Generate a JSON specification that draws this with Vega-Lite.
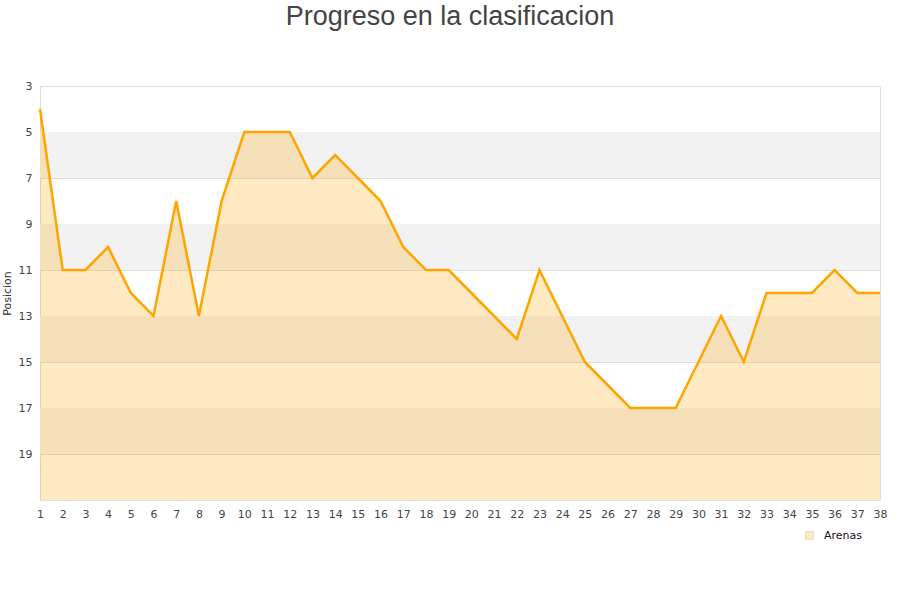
{
  "$schema": "https://vega.github.io/schema/vega-lite/v6.json",
  "width": 840,
  "height": 414,
  "autosize": {"type": "none"},
  "padding": {"left": 40, "top": 86, "right": 20, "bottom": 100},
  "background": "white",
  "config": {
    "view": {"stroke": "#dddddd", "strokeWidth": 1},
    "axis": {"labelFont": "DejaVu Sans", "labelFontSize": 11, "labelColor": "#444444", "titleFont": "DejaVu Sans", "titleFontSize": 11, "titleFontWeight": "normal", "titleColor": "#333333"},
    "axisX": {"labelOverlap": false, "labelFlush": false, "labelBound": false},
    "legend": {"labelFont": "DejaVu Sans", "labelFontSize": 11, "labelColor": "#111111"}
  },
  "title": {"text": "Progreso en la clasificacion", "font": "Liberation Sans", "fontSize": 27, "fontWeight": "normal", "color": "#444444", "anchor": "middle", "dx": -10, "offset": 49},
  "datasets": {
    "pos": [
      {"jornada": 1, "posicion": 4}, {"jornada": 2, "posicion": 11}, {"jornada": 3, "posicion": 11},
      {"jornada": 4, "posicion": 10}, {"jornada": 5, "posicion": 12}, {"jornada": 6, "posicion": 13},
      {"jornada": 7, "posicion": 8}, {"jornada": 8, "posicion": 13}, {"jornada": 9, "posicion": 8},
      {"jornada": 10, "posicion": 5}, {"jornada": 11, "posicion": 5}, {"jornada": 12, "posicion": 5},
      {"jornada": 13, "posicion": 7}, {"jornada": 14, "posicion": 6}, {"jornada": 15, "posicion": 7},
      {"jornada": 16, "posicion": 8}, {"jornada": 17, "posicion": 10}, {"jornada": 18, "posicion": 11},
      {"jornada": 19, "posicion": 11}, {"jornada": 20, "posicion": 12}, {"jornada": 21, "posicion": 13},
      {"jornada": 22, "posicion": 14}, {"jornada": 23, "posicion": 11}, {"jornada": 24, "posicion": 13},
      {"jornada": 25, "posicion": 15}, {"jornada": 26, "posicion": 16}, {"jornada": 27, "posicion": 17},
      {"jornada": 28, "posicion": 17}, {"jornada": 29, "posicion": 17}, {"jornada": 30, "posicion": 15},
      {"jornada": 31, "posicion": 13}, {"jornada": 32, "posicion": 15}, {"jornada": 33, "posicion": 12},
      {"jornada": 34, "posicion": 12}, {"jornada": 35, "posicion": 12}, {"jornada": 36, "posicion": 11},
      {"jornada": 37, "posicion": 12}, {"jornada": 38, "posicion": 12}
    ],
    "bands": [
      {"desde": 5, "hasta": 7}, {"desde": 9, "hasta": 11}, {"desde": 13, "hasta": 15}, {"desde": 17, "hasta": 19}
    ]
  },
  "layer": [
    {
      "data": {"name": "bands"},
      "mark": {"type": "rect", "color": "#f2f2f2"},
      "encoding": {
        "y": {"field": "desde", "type": "quantitative", "scale": {"domain": [3, 21], "reverse": true, "nice": false, "zero": false},
          "axis": {"values": [3, 5, 7, 9, 11, 13, 15, 17, 19], "grid": true, "gridColor": "#dddddd", "domain": false, "ticks": false, "labelPadding": 8, "title": "Posicion", "titlePadding": 6}},
        "y2": {"field": "hasta"}
      }
    },
    {
      "data": {"name": "pos"},
      "mark": {"type": "area", "opacity": 0.23},
      "encoding": {
        "x": {"field": "jornada", "type": "quantitative", "scale": {"domain": [1, 38], "nice": false, "zero": false},
          "axis": {"values": [1,2,3,4,5,6,7,8,9,10,11,12,13,14,15,16,17,18,19,20,21,22,23,24,25,26,27,28,29,30,31,32,33,34,35,36,37,38], "grid": false, "domain": false, "ticks": false, "labelPadding": 8, "title": null, "labelOverlap": false}},
        "y": {"field": "posicion", "type": "quantitative"},
        "y2": {"datum": 21},
        "color": {"datum": "Arenas", "scale": {"range": ["#FFA500"]},
          "legend": {"title": null, "orient": "none", "legendX": 764, "legendY": 444, "symbolType": "square", "symbolSize": 64, "labelOffset": 9,
            "symbolStrokeColor": "#8a7a5a", "symbolStrokeWidth": 1,
            "encode": {"symbols": {"update": {"fill": {"value": "#fde9c4"}, "stroke": {"value": "#7a6a4a"}, "strokeWidth": {"value": 1}, "opacity": {"value": 1}, "fillOpacity": {"value": 1}, "strokeOpacity": {"value": 1}}}}}}
      }
    },
    {
      "data": {"name": "pos"},
      "mark": {"type": "line", "color": "#FFA500", "strokeWidth": 2.5},
      "encoding": {
        "x": {"field": "jornada", "type": "quantitative", "scale": {"domain": [1, 38], "nice": false, "zero": false},
          "axis": {"values": [1,2,3,4,5,6,7,8,9,10,11,12,13,14,15,16,17,18,19,20,21,22,23,24,25,26,27,28,29,30,31,32,33,34,35,36,37,38], "grid": false, "domain": false, "ticks": false, "labelPadding": 8, "title": null, "labelOverlap": false}},
        "y": {"field": "posicion", "type": "quantitative"}
      }
    }
  ]
}
